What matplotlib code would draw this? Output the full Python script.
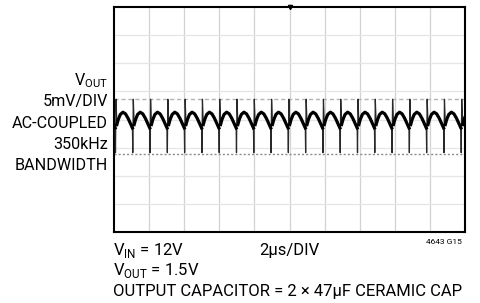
import numpy as np
import matplotlib.pyplot as plt

# one switching period of the ripple (phase 0..1, mV)
phase = [0.00, 0.02, 0.035, 0.05, 0.10, 0.18, 0.30, 0.45, 0.60, 0.75, 0.90, 1.00]
ripple_mv = [-1.5, -5.9, -1.0, 3.6, -0.9, 0.0, 0.9, 1.3, 1.0, 0.2, -0.8, -1.5]
spike_idx = [1, 2, 3]
period_us = 0.985
first_us = 0.065
n_periods = 21

upper_mv = 3.6    # dashed marker line
lower_mv = -6.1   # dotted marker line

left_labels = ["V$_{\\mathregular{OUT}}$", "5mV/DIV", "AC-COUPLED", "350kHz", "BANDWIDTH"]
bottom_labels = ["V$_{\\mathregular{IN}}$ = 12V", "V$_{\\mathregular{OUT}}$ = 1.5V",
                 "OUTPUT CAPACITOR = 2 × 47µF CERAMIC CAP"]

plt.rcParams['font.family'] = ['Roboto', 'DejaVu Sans']

fig = plt.figure(figsize=(4.8, 3.03), dpi=100)
ax = fig.add_axes([114 / 480, 1 - 232 / 303, 351 / 480, 225 / 303])

t = []
v = []
body = []
for k in range(-1, n_periods):
    for i, (p, m) in enumerate(zip(phase[:-1], ripple_mv[:-1])):
        t.append(first_us + (k + p) * period_us)
        v.append(m)
        body.append(np.nan if i in spike_idx else m)
t = np.array(t)
v = np.array(v)

ax.set_xlim(0, 20)
ax.set_ylim(-20, 20)
for x in np.arange(2, 20, 2):
    ax.axvline(x, color="#d2d2d2", lw=0.9, zorder=0)
for y in np.arange(-15, 20, 5):
    ax.axhline(y, color="#e6e6e6", lw=0.9, zorder=0)
ax.axhline(upper_mv, color="#b4b4b4", lw=1, dashes=(3, 2), zorder=1)
ax.axhline(lower_mv, color="#8c8c8c", lw=1, dashes=(1.5, 1.5), zorder=1)

ax.plot(t, v, color="#282828", lw=0.9, zorder=3)
ax.plot(t, body, color="black", lw=2.3, zorder=3)

ax.tick_params(left=False, bottom=False, labelleft=False, labelbottom=False)
for s in ax.spines.values():
    s.set_linewidth(1.5)
ax.plot([10], [20], marker="v", color="black", ms=3, clip_on=False, zorder=5)

base = [85, 106, 128, 149, 170]
for lab, b in zip(left_labels, base):
    fig.text(108 / 480, 1 - b / 303, lab, ha="right", va="baseline", fontsize=11.6)

fs = 12
fig.text(113 / 480, 1 - 255 / 303, bottom_labels[0], ha="left", va="baseline", fontsize=fs)
fig.text(113 / 480, 1 - 275 / 303, bottom_labels[1], ha="left", va="baseline", fontsize=fs)
fig.text(113 / 480, 1 - 296 / 303, bottom_labels[2], ha="left", va="baseline", fontsize=fs)
fig.text(259 / 480, 1 - 255 / 303, "2µs/DIV", ha="left", va="baseline", fontsize=fs)
fig.text(462 / 480, 1 - 244 / 303, "4643 G15", ha="right", va="baseline", fontsize=6)

fig.savefig("out.png", dpi=100)
